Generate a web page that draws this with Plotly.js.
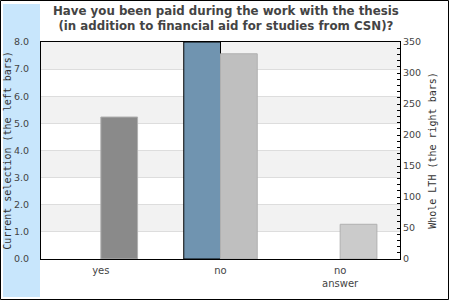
<!DOCTYPE html>
<html><head><meta charset="utf-8">
<script src="https://cdn.plot.ly/plotly-3.0.1.min.js"></script>
<style>html,body{margin:0;padding:0;background:#fff}</style>
</head><body>
<div id="chart" style="width:450px;height:300px"></div>
<script>
const categories = ["yes", "no", "no<br>answer"];
const currentSelection = [0, 8, 0];
const wholeLTH = [229, 331, 56];
const leftTicks = [0, 1, 2, 3, 4, 5, 6, 7, 8];
const leftTickText = ["0.0", "1.0", "2.0", "3.0", "4.0", "5.0", "6.0", "7.0", "8.0"];
const rightTicks = [0, 50, 100, 150, 200, 250, 300, 350];
const wholeColors = ["#8a8a8a", "#bfbfbf", "#cbcbcb"];

const traces = [
  {type: "bar", x: [0, 1, 2], y: currentSelection, yaxis: "y", width: 0.307, offset: -0.307,
   marker: {color: "#7094b0", line: {color: "#000", width: currentSelection.map(v => v > 0 ? 1 : 0)}}, hoverinfo: "none"},
  {type: "bar", x: [0, 1, 2], y: wholeLTH, yaxis: "y2", width: 0.307, offset: 0,
   marker: {color: wholeColors, line: {color: "#b0b0b0", width: 1}}, hoverinfo: "none"}
];

const W = 359, H = 217;
const bands = [];
for (let i = 1; i < 8; i += 2) {
  bands.push({type: "rect", xref: "paper", yref: "y", x0: 0, x1: 1, y0: i, y1: i + 1,
    fillcolor: "#f2f2f2", line: {width: 0}, layer: "below"});
}
bands.push({type: "rect", xref: "paper", yref: "paper", x0: -38/W, x1: -1/W, y0: -38/H, y1: 255/H,
  fillcolor: "#c8e6fc", line: {width: 0}, layer: "below"});

const layout = {
  width: 450, height: 300,
  margin: {l: 41, r: 50, t: 42, b: 41},
  paper_bgcolor: "#fff", plot_bgcolor: "rgba(0,0,0,0)",
  showlegend: false,
  font: {family: "DejaVu Sans", color: "#444", size: 10},
  title: {text: "<b>Have you been paid during the work with the thesis<br>(in addition to financial aid for studies from CSN)?</b>",
    font: {family: "DejaVu Sans", size: 11.8, color: "#444"}, x: 0.502, xanchor: "center", y: 0.95, yanchor: "top"},
  xaxis: {range: [-0.5, 2.5], tickvals: [0, 1, 2], ticktext: categories, showline: true, linecolor: "#000",
    linewidth: 1, mirror: true, showgrid: false, zeroline: false, ticks: "", fixedrange: true, ticklabelstandoff: 2,
    tickfont: {family: "DejaVu Sans", size: 10, color: "#444"}},
  yaxis: {range: [0, 8], tickvals: leftTicks, ticktext: leftTickText, showline: true, linecolor: "#000",
    gridcolor: "#dddddd", zeroline: false, ticks: "outside", ticklen: 9, tickcolor: "rgba(0,0,0,0)",
    tickfont: {family: "DejaVu Sans", size: 9.5, color: "#444"},
    title: {text: "Current selection (the left bars)", font: {family: "DejaVu Sans Mono", size: 10, color: "#333"}, standoff: 0}},
  yaxis2: {range: [0, 350], overlaying: "y", side: "right", tickvals: rightTicks, showline: true, linecolor: "#000",
    showgrid: false, zeroline: false, ticks: "inside", ticklen: 3, tickcolor: "#000",
    minor: {dtick: 10, ticks: "inside", ticklen: 3, tickcolor: "#000"},
    tickfont: {family: "DejaVu Sans", size: 9.5, color: "#444"},
    title: {text: "Whole LTH (the right bars)", font: {family: "DejaVu Sans Mono", size: 10, color: "#333"}, standoff: 8}},
  shapes: bands.concat([
    {type: "rect", xref: "paper", yref: "paper", x0: -40.5/W, x1: 1 + 48.5/W, y0: -40.5/H, y1: 1 + 41.5/H,
     line: {color: "#000", width: 1}, fillcolor: "rgba(0,0,0,0)", layer: "above"}
  ])
};
Plotly.newPlot("chart", traces, layout, {displayModeBar: false, staticPlot: true});
</script>
</body></html>
